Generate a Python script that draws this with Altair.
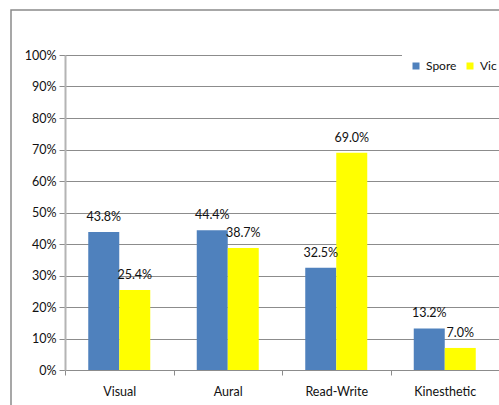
import altair as alt
import pandas as pd

categories = ["Visual", "Aural", "Read-Write", "Kinesthetic"]
series_names = ["Spore", "Vic"]
spore = [43.8, 44.4, 32.5, 13.2]
vic = [25.4, 38.7, 69.0, 7.0]
colors = ["#4F81BD", "#FFFF00"]
y_ticks = [0, 0.1, 0.2, 0.3, 0.4, 0.5, 0.6, 0.7, 0.8, 0.9, 1.0]

rows = []
for c, s, v in zip(categories, spore, vic):
    rows.append({"category": c, "series": "Spore", "value": s / 100})
    rows.append({"category": c, "series": "Vic", "value": v / 100})
df = pd.DataFrame(rows)

FONT = "Lato"

x = alt.X("category:N", sort=categories, title=None,
          scale=alt.Scale(paddingInner=0, paddingOuter=0),
          axis=alt.Axis(labelAngle=0, tickBand="extent", grid=False,
                        domainColor="#8c8c8c", tickColor="#8c8c8c",
                        tickSize=5, labelPadding=10, labelFontSize=12.5,
                        labelFont=FONT, labelColor="#111"))
xo = alt.XOffset("series:N", sort=series_names,
                 scale=alt.Scale(paddingInner=0, paddingOuter=0.75))
y = alt.Y("value:Q", title=None,
          scale=alt.Scale(domain=[0, 1], nice=False),
          axis=alt.Axis(format=".0%", values=y_ticks, tickCount=11,
                        labelOverlap=False,
                        grid=True, gridColor="#8c8c8c", gridWidth=1,
                        domainColor="#b4b4b4", domainWidth=2,
                        tickColor="#8c8c8c", tickSize=6, labelPadding=3,
                        labelFontSize=12.5, labelFont=FONT, labelColor="#111"))

frame = alt.Chart(pd.DataFrame({"a": [0]})).mark_rect(
    fillOpacity=0, stroke="#8a8a8a", strokeWidth=1.5
).encode(x=alt.value(-54), y=alt.value(-45), x2=alt.value(700), y2=alt.value(600))

bars = alt.Chart(df).mark_bar().encode(
    x=x, xOffset=xo, y=y,
    color=alt.Color("series:N", sort=series_names, title=None,
                    scale=alt.Scale(domain=series_names, range=colors),
                    legend=alt.Legend(orient="none", legendX=337, legendY=-3,
                                      direction="horizontal", fillColor="white",
                                      padding=8, symbolType="square",
                                      symbolSize=49, symbolStrokeWidth=0,
                                      labelFont=FONT, labelFontSize=12,
                                      labelColor="#111", labelOffset=4,
                                      columnPadding=7)),
)

labels = alt.Chart(df).mark_text(
    baseline="bottom", dy=-8, font=FONT, fontSize=12.5, color="#111"
).encode(
    x=x, xOffset=xo, y=y,
    text=alt.Text("value:Q", format=".1%"),
)

chart = alt.layer(frame, bars, labels).properties(
    width=434, height=315,
    autosize=alt.AutoSizeParams(type="none"),
    padding={"left": 65, "top": 55, "right": 0, "bottom": 35},
).configure_view(stroke=None).configure(background="white")

chart.save("out.html", embed_options={"renderer": "svg", "actions": False})
